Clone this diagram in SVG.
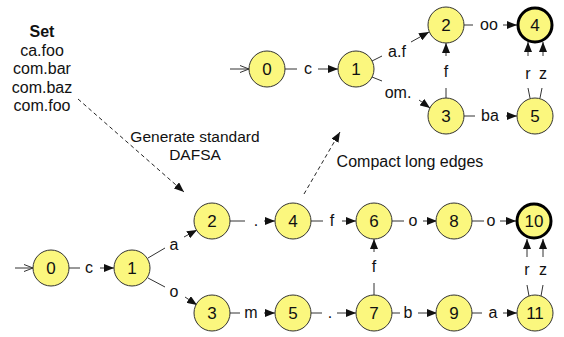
<svg xmlns="http://www.w3.org/2000/svg" width="564" height="337" viewBox="0 0 564 337">
<style>
text{font-family:"Liberation Sans",Arial,sans-serif;font-size:16px;fill:#111}
.n circle{fill:#fbf77e;stroke:#333;stroke-width:1}
.n.f circle{stroke:#000;stroke-width:3}
.n text{font-size:17px;text-anchor:middle}
.e line{stroke:#333;stroke-width:1}
.e line.a{marker-end:url(#ah)}
.e line.s{marker-end:url(#oh)}
.e line.d{stroke:#222;stroke-dasharray:4 3;marker-end:url(#ah)}
.lbl{text-anchor:middle}
</style>
<defs>
<marker id="ah" markerUnits="userSpaceOnUse" markerWidth="11" markerHeight="8" refX="10" refY="4" orient="auto"><path d="M0,0 L10,4 L0,8 z" fill="#111"/></marker>
<marker id="oh" markerUnits="userSpaceOnUse" markerWidth="10" markerHeight="8" refX="9" refY="4" orient="auto"><path d="M0,0.5 L9,4 L0,7.5" fill="none" stroke="#333" stroke-width="1"/></marker>
</defs>

<g id="set-text">
<text x="42" y="37" text-anchor="middle" font-weight="bold">Set</text>
<text x="42" y="56" text-anchor="middle">ca.foo</text>
<text x="42" y="74" text-anchor="middle">com.bar</text>
<text x="42" y="93" text-anchor="middle">com.baz</text>
<text x="42" y="111" text-anchor="middle">com.foo</text>
<text x="195" y="142" text-anchor="middle" style="font-size:15.5px">Generate standard</text>
<text x="195" y="160" text-anchor="middle" style="font-size:15.5px">DAFSA</text>
<text x="410" y="167" text-anchor="middle">Compact long edges</text>
</g>

<g id="connectors" class="e">
<line class="d" x1="78" y1="99" x2="184" y2="192"/>
<line class="d" x1="304" y1="194" x2="340" y2="132"/>
<!-- top graph -->
<line class="s" x1="230" y1="69" x2="249" y2="69"/>
<line x1="284" y1="69" x2="297" y2="69"/>
<text class="lbl" x="308" y="74">c</text>
<line class="a" x1="318" y1="69" x2="338" y2="69"/>
<line x1="372" y1="61" x2="382" y2="56"/>
<text class="lbl" x="397" y="57">a.f</text>
<line class="a" x1="411" y1="42" x2="429" y2="32"/>
<line x1="372" y1="77" x2="382" y2="81"/>
<text class="lbl" x="398" y="98">om.</text>
<line class="a" x1="419" y1="100" x2="430" y2="108"/>
<line x1="464" y1="25" x2="473" y2="25"/>
<text class="lbl" x="489" y="30">oo</text>
<line class="a" x1="503" y1="25" x2="517" y2="25"/>
<line x1="464" y1="116" x2="475" y2="116"/>
<text class="lbl" x="490" y="121">ba</text>
<line class="a" x1="506" y1="116" x2="517" y2="116"/>
<line x1="446" y1="98" x2="446" y2="88"/>
<text class="lbl" x="446" y="77">f</text>
<line class="a" x1="446" y1="56" x2="446" y2="43"/>
<line x1="530" y1="98" x2="528" y2="88"/>
<text class="lbl" x="528" y="79">r</text>
<line class="a" x1="528" y1="56" x2="528" y2="42"/>
<line x1="540" y1="98" x2="542" y2="88"/>
<text class="lbl" x="543" y="79">z</text>
<line class="a" x1="543" y1="56" x2="543" y2="42"/>
<!-- bottom graph -->
<line class="s" x1="15" y1="268" x2="33" y2="268"/>
<line x1="69" y1="268" x2="80" y2="268"/>
<text class="lbl" x="89" y="273">c</text>
<line class="a" x1="100" y1="268" x2="114" y2="268"/>
<line x1="148" y1="258" x2="165" y2="248"/>
<text class="lbl" x="174" y="250">a</text>
<line class="a" x1="184" y1="237" x2="197" y2="230"/>
<line x1="148" y1="278" x2="165" y2="287"/>
<text class="lbl" x="174" y="297">o</text>
<line class="a" x1="185" y1="297" x2="197" y2="305"/>
<line x1="230" y1="221" x2="245" y2="221"/>
<text class="lbl" x="256" y="226">.</text>
<line class="a" x1="264" y1="221" x2="275" y2="221"/>
<line x1="230" y1="313" x2="240" y2="313"/>
<text class="lbl" x="251" y="318">m</text>
<line class="a" x1="264" y1="313" x2="275" y2="313"/>
<line x1="311" y1="221" x2="323" y2="221"/>
<text class="lbl" x="332" y="226">f</text>
<line class="a" x1="342" y1="221" x2="356" y2="221"/>
<line x1="311" y1="313" x2="322" y2="313"/>
<text class="lbl" x="330" y="318">.</text>
<line class="a" x1="337" y1="313" x2="356" y2="313"/>
<line x1="392" y1="221" x2="404" y2="221"/>
<text class="lbl" x="413" y="226">o</text>
<line class="a" x1="423" y1="221" x2="437" y2="221"/>
<line x1="392" y1="313" x2="400" y2="313"/>
<text class="lbl" x="408" y="318">b</text>
<line class="a" x1="418" y1="313" x2="437" y2="313"/>
<line x1="472" y1="221" x2="484" y2="221"/>
<text class="lbl" x="491" y="226">o</text>
<line class="a" x1="500" y1="221" x2="516" y2="221"/>
<line x1="472" y1="313" x2="482" y2="313"/>
<text class="lbl" x="493" y="318">a</text>
<line class="a" x1="503" y1="313" x2="517" y2="313"/>
<line x1="374" y1="295" x2="374" y2="283"/>
<text class="lbl" x="374" y="272">f</text>
<line class="a" x1="374" y1="252" x2="374" y2="239"/>
<line x1="529" y1="296" x2="527" y2="285"/>
<text class="lbl" x="527" y="275">r</text>
<line class="a" x1="527" y1="257" x2="527" y2="239"/>
<line x1="541" y1="296" x2="543" y2="285"/>
<text class="lbl" x="543" y="275">z</text>
<line class="a" x1="543" y1="257" x2="543" y2="239"/>
</g>

<g id="t0" class="n"><circle cx="267" cy="69" r="18"/><text x="267" y="75">0</text></g>
<g id="t1" class="n"><circle cx="356" cy="69" r="18"/><text x="356" y="75">1</text></g>
<g id="t2" class="n"><circle cx="446" cy="25" r="18"/><text x="446" y="31">2</text></g>
<g id="t3" class="n"><circle cx="446" cy="116" r="18"/><text x="446" y="122">3</text></g>
<g id="t4" class="n f"><circle cx="535" cy="25" r="17"/><text x="535" y="31">4</text></g>
<g id="t5" class="n"><circle cx="535" cy="116" r="18"/><text x="535" y="122">5</text></g>

<g id="b0" class="n"><circle cx="51" cy="268" r="18"/><text x="51" y="274">0</text></g>
<g id="b1" class="n"><circle cx="132" cy="268" r="18"/><text x="132" y="274">1</text></g>
<g id="b2" class="n"><circle cx="212" cy="221" r="18"/><text x="212" y="227">2</text></g>
<g id="b3" class="n"><circle cx="212" cy="313" r="18"/><text x="212" y="319">3</text></g>
<g id="b4" class="n"><circle cx="293" cy="221" r="18"/><text x="293" y="227">4</text></g>
<g id="b5" class="n"><circle cx="293" cy="313" r="18"/><text x="293" y="319">5</text></g>
<g id="b6" class="n"><circle cx="374" cy="221" r="18"/><text x="374" y="227">6</text></g>
<g id="b7" class="n"><circle cx="374" cy="313" r="18"/><text x="374" y="319">7</text></g>
<g id="b8" class="n"><circle cx="454" cy="221" r="18"/><text x="454" y="227">8</text></g>
<g id="b9" class="n"><circle cx="454" cy="313" r="18"/><text x="454" y="319">9</text></g>
<g id="b10" class="n f"><circle cx="534" cy="221" r="17"/><text x="534" y="227">10</text></g>
<g id="b11" class="n"><circle cx="535" cy="313" r="18"/><text x="535" y="319">11</text></g>
</svg>
